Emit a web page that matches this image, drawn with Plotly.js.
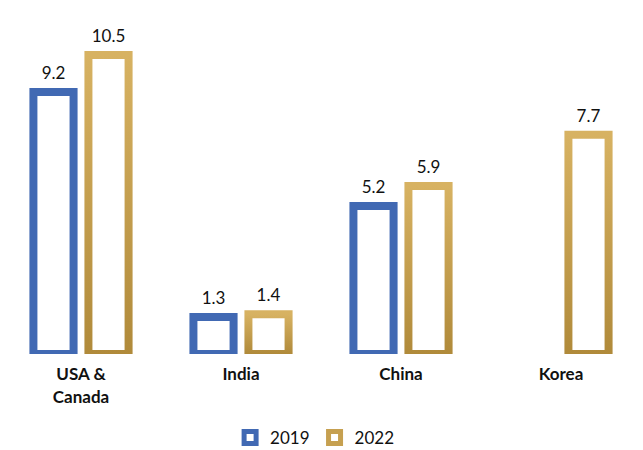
<!DOCTYPE html>
<html>
<head>
<meta charset="utf-8">
<script src="https://cdn.plot.ly/plotly-3.0.1.min.js"></script>
<style>
html,body{margin:0;padding:0;background:#fff;}
#chart{width:643px;height:450px;}
</style>
</head>
<body>
<div id="chart"></div>
<script>
const categories = ["USA &<br>Canada", "India", "China", "Korea"];
const values2019 = [9.2, 1.3, 5.2, null];
const values2022 = [10.5, 1.4, 5.9, 7.7];
const seriesNames = ["2019", "2022"];

const blue = "#4169B3";
const gold = "#C6A050";
const fontFam = "Lato, 'Open Sans', sans-serif";

const fmt = v => (v === null ? "" : v.toFixed(1));

const traces = [
  {
    type: "bar", name: seriesNames[0], x: categories, y: values2019,
    text: values2019.map(fmt), textposition: "outside", cliponaxis: false,
    textfont: {size: 17, color: "#111", family: fontFam},
    marker: {color: "rgba(255,255,255,0)", line: {color: blue, width: 8}},
    hoverinfo: "none"
  },
  {
    type: "bar", name: seriesNames[1], x: categories, y: values2022,
    text: values2022.map(fmt), textposition: "outside", cliponaxis: false,
    textfont: {size: 17, color: "#111", family: fontFam},
    marker: {color: "rgba(255,255,255,0)", line: {color: gold, width: 8}},
    hoverinfo: "none"
  }
];

const layout = {
  width: 643, height: 450,
  margin: {l: 1, r: 2, t: 20, b: 96},
  paper_bgcolor: "#fff", plot_bgcolor: "#fff",
  barmode: "group", bargap: 0.3125, bargroupgap: 0.27,
  font: {family: fontFam, color: "#111"},
  xaxis: {
    type: "category", showgrid: false, zeroline: false, showline: false,
    ticks: "outside", ticklen: 5, tickcolor: "rgba(0,0,0,0)",
    tickfont: {size: 17, color: "#111", family: fontFam, weight: "bold"}
  },
  yaxis: {range: [0, 11.73], visible: false, showgrid: false, zeroline: false},
  showlegend: true,
  legend: {
    orientation: "h", x: 0.49, xanchor: "center",
    yref: "container", y: 0.027, yanchor: "middle",
    font: {size: 17, color: "#111", family: fontFam}
  }
};

Plotly.newPlot("chart", traces, layout, {displayModeBar: false, staticPlot: true}).then(gd => {
  // gold gradient stroke for 2022 bars (light top, darker bottom)
  const svg = gd.querySelector("svg.main-svg");
  const ns = "http://www.w3.org/2000/svg";
  let defs = svg.querySelector("defs");
  if (!defs) { defs = document.createElementNS(ns, "defs"); svg.insertBefore(defs, svg.firstChild); }
  const lg = document.createElementNS(ns, "linearGradient");
  lg.setAttribute("id", "goldGrad");
  lg.setAttribute("x1", "0"); lg.setAttribute("y1", "0");
  lg.setAttribute("x2", "0"); lg.setAttribute("y2", "1");
  [["0", "#D7B262"], ["1", "#B08A3A"]].forEach(([o, c]) => {
    const s = document.createElementNS(ns, "stop");
    s.setAttribute("offset", o); s.setAttribute("stop-color", c);
    lg.appendChild(s);
  });
  defs.appendChild(lg);
  const traceGroups = gd.querySelectorAll(".barlayer .trace");
  if (traceGroups[1]) {
    traceGroups[1].querySelectorAll("path").forEach(p => { p.style.stroke = "url(#goldGrad)"; });
  }
  // lift value labels slightly above the bar outlines
  gd.querySelectorAll(".barlayer text").forEach(t => {
    const tr = t.getAttribute("transform") || "";
    t.setAttribute("transform", "translate(0,-6) " + tr);
  });
});
</script>
</body>
</html>
